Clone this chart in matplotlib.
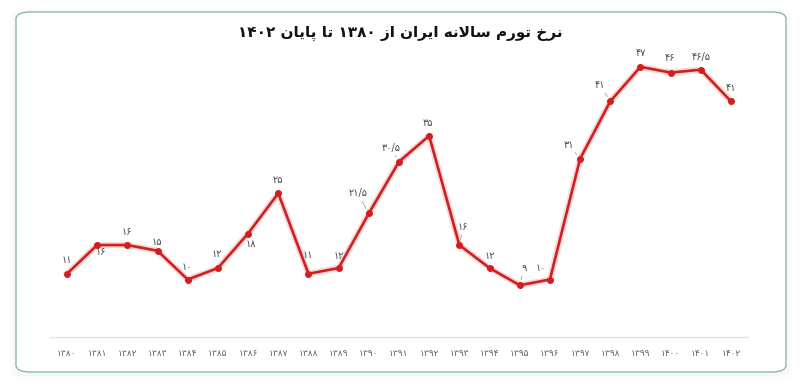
import matplotlib
matplotlib.use("Agg")
import matplotlib.pyplot as plt
from matplotlib.patches import FancyBboxPatch

# ---------------- data ----------------
years = ["۱۳۸۰", "۱۳۸۱", "۱۳۸۲", "۱۳۸۳", "۱۳۸۴", "۱۳۸۵", "۱۳۸۶", "۱۳۸۷",
         "۱۳۸۸", "۱۳۸۹", "۱۳۹۰", "۱۳۹۱", "۱۳۹۲", "۱۳۹۳", "۱۳۹۴", "۱۳۹۵",
         "۱۳۹۶", "۱۳۹۷", "۱۳۹۸", "۱۳۹۹", "۱۴۰۰", "۱۴۰۱", "۱۴۰۲"]
inflation = [11, 16, 16, 15, 10, 12, 18, 25, 11, 12, 21.5, 30.5, 35,
             16, 12, 9, 10, 31, 41, 47, 46, 46.5, 41]
value_labels = ["۱۱", "۱۶", "۱۶", "۱۵", "۱۰", "۱۲", "۱۸", "۲۵", "۱۱", "۱۲",
                "۲۱/۵", "۳۰/۵", "۳۵", "۱۶", "۱۲", "۹", "۱۰", "۳۱", "۴۱",
                "۴۷", "۴۶", "۴۶/۵", "۴۱"]
title = "نرخ تورم سالانه ایران از ۱۳۸۰ تا پایان ۱۴۰۲"

# label layout (pixel offsets from each point) and leader-line flags
label_dx = [0, 4, 0, -1, -1, -1, 3, 0, -1, 0, -11, -8, -1, 4, 0, 4, -9, -11, -10, 0, -1, 0, 0]
label_dy = [14, -7, 13, 9, 13, 14, -10, 13, 19, 12, 20, 14, 13, 18, 12, 17, 12, 14, 16, 14, 15, 13, 13]
leader = [False, False, False, False, False, False, False, False, False, False,
          True, True, False, True, False, True, False, True, True, False, False, False, False]

# ---------------- simple Persian shaping ----------------
FORMS = {  # iso, fin, ini, med
    'ن': ('\uFEE5', '\uFEE6', '\uFEE7', '\uFEE8'),
    'خ': ('\uFEA5', '\uFEA6', '\uFEA7', '\uFEA8'),
    'ت': ('\uFE95', '\uFE96', '\uFE97', '\uFE98'),
    'م': ('\uFEE1', '\uFEE2', '\uFEE3', '\uFEE4'),
    'س': ('\uFEB1', '\uFEB2', '\uFEB3', '\uFEB4'),
    'ل': ('\uFEDD', '\uFEDE', '\uFEDF', '\uFEE0'),
    'ه': ('\uFEE9', '\uFEEA', '\uFEEB', '\uFEEC'),
    'ی': ('\uFBFC', '\uFBFD', '\uFBFE', '\uFBFF'),
    'پ': ('\uFB56', '\uFB57', '\uFB58', '\uFB59'),
    'ر': ('\uFEAD', '\uFEAE', None, None),
    'ز': ('\uFEAF', '\uFEB0', None, None),
    'و': ('\uFEED', '\uFEEE', None, None),
    'ا': ('\uFE8D', '\uFE8E', None, None),
}


def dual(c):
    return c in FORMS and FORMS[c][2] is not None


def shape_word(w):
    out = []
    i = 0
    n = len(w)
    while i < n:
        c = w[i]
        prev_joins = i > 0 and dual(w[i - 1])
        if c == 'ل' and i + 1 < n and w[i + 1] == 'ا':
            out.append('\uFEFC' if prev_joins else '\uFEFB')
            i += 2
            continue
        if c not in FORMS:
            out.append(c)
            i += 1
            continue
        next_exists = i + 1 < n and w[i + 1] in FORMS
        f = FORMS[c]
        if dual(c):
            if prev_joins and next_exists:
                out.append(f[3])
            elif prev_joins:
                out.append(f[1])
            elif next_exists:
                out.append(f[2])
            else:
                out.append(f[0])
        else:
            out.append(f[1] if prev_joins else f[0])
        i += 1
    return out


def rtl(text):
    words = text.split(' ')
    vis_words = []
    for w in words:
        if all('\u06F0' <= ch <= '\u06F9' for ch in w):
            vis_words.append(w)
        else:
            vis_words.append(''.join(reversed(shape_word(w))))
    return ' '.join(reversed(vis_words))


# ---------------- figure ----------------
plt.rcParams['font.family'] = ['DejaVu Sans']
fig = plt.figure(figsize=(8, 3.84), dpi=100)
fig.patch.set_facecolor('white')

W, H = 800, 384
# card shadow and card
for k, a in [(6, 0.05), (4, 0.07), (2, 0.09)]:
    sh = FancyBboxPatch(((16 - k) / W, (H - 372 - k - 2) / H), (770 + 2 * k) / W, (360 + 2 * k) / H,
                        boxstyle="round,pad=0,rounding_size=0.018", transform=fig.transFigure,
                        facecolor='#cfe8dc', edgecolor='none', alpha=a, zorder=0)
    fig.patches.append(sh)
card = FancyBboxPatch((16 / W, (H - 372) / H), 770 / W, 360 / H,
                      boxstyle="round,pad=0,rounding_size=0.018", transform=fig.transFigure,
                      facecolor='white', edgecolor='#7db59a', linewidth=0.9, zorder=1)
fig.patches.append(card)

ax = fig.add_axes([50 / W, 1 - 337 / H, 698 / W, 292 / H])
ax.set_facecolor('none')
ax.set_zorder(2)
x = list(range(len(years)))

# soft glow under the line
ax.plot(x, inflation, color='#f1a9a9', linewidth=4.5, alpha=0.45, solid_joinstyle='round', zorder=2)
ax.plot(x, inflation, color='#d01f1f', linewidth=1.9, marker='o', markersize=4,
        markerfacecolor='#d01f1f', markeredgecolor='#d01f1f', zorder=3)

for i, (xi, yi) in enumerate(zip(x, inflation)):
    props = dict(arrowstyle='-', color='#a0a0a0', lw=0.6, shrinkA=0, shrinkB=4) if leader[i] else None
    ax.annotate(value_labels[i], xy=(xi, yi), xytext=(label_dx[i], label_dy[i]),
                textcoords='offset pixels', ha='center', va='center',
                fontsize=7, color='#4a4a4a', arrowprops=props, zorder=4)

ax.set_xlim(-0.563, len(years) - 1 + 0.563)
ax.set_ylim(0, 50.8)
ax.set_xticks(x)
ax.set_xticklabels(years, fontsize=6.5, color='#606060')
ax.tick_params(axis='x', length=0, pad=9)
ax.set_yticks([])
for s in ['top', 'right', 'left']:
    ax.spines[s].set_visible(False)
ax.spines['bottom'].set_color('#e2e2e2')
ax.spines['bottom'].set_linewidth(1.0)

fig.text(400 / W, 1 - 33 / H, rtl(title), ha='center', va='center',
         fontsize=11, fontweight='bold', color='#111111')

fig.savefig('out.png', dpi=100, facecolor='white')
